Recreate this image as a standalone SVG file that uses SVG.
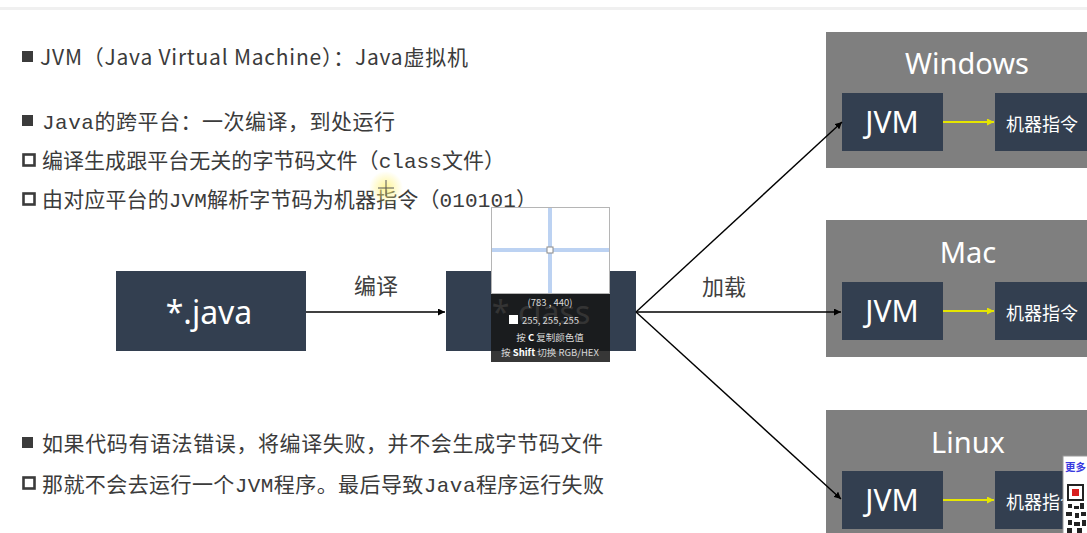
<svg xmlns="http://www.w3.org/2000/svg" width="1087" height="533" viewBox="0 0 1087 533">
<defs>
<style>
.txt{font-family:"Noto Sans CJK SC","Noto Sans",sans-serif;fill:#3b3b3b;font-size:21px}
.mono{font-family:"Liberation Mono","DejaVu Sans Mono",monospace;font-size:21px}
.node{fill:#333f50}
.panel{fill:#7f7f7f}
.wt{fill:#ffffff;font-family:"Noto Sans","Noto Sans CJK SC",sans-serif}
.cjkw{fill:#ffffff;font-family:"Noto Sans CJK SC",sans-serif;font-size:18px}
.lbl{font-family:"Noto Sans CJK SC",sans-serif;fill:#404040;font-size:22px}
.conn{stroke:#000;stroke-width:1.4;fill:none;marker-end:url(#ah)}
.yconn{stroke:#e6e600;stroke-width:2;fill:none;marker-end:url(#ya)}
.bf{fill:#3b3b3b}
.bh{fill:none;stroke:#3b3b3b;stroke-width:2.6}
.pk{font-family:"Noto Sans CJK SC",sans-serif;fill:#d8d8d8;font-size:9.5px}
</style>
<marker id="ah" viewBox="0 0 10 10" refX="10" refY="5" markerWidth="7" markerHeight="7" orient="auto" markerUnits="userSpaceOnUse"><path d="M0,0 L10,5 L0,10 z" fill="#000"/></marker>
<marker id="ya" viewBox="0 0 10 10" refX="10" refY="5" markerWidth="7" markerHeight="7" orient="auto" markerUnits="userSpaceOnUse"><path d="M0,0 L10,5 L0,10 z" fill="#e6e600"/></marker>
<radialGradient id="hl"><stop offset="0" stop-color="#fff27a" stop-opacity="0.8"/><stop offset="1" stop-color="#fff27a" stop-opacity="0"/></radialGradient>
</defs>
<rect x="0" y="0" width="1087" height="533" fill="#ffffff"/>
<rect x="0" y="7" width="1087" height="3" fill="#f0f0f0"/>

<g id="text-block">
<rect class="bf" x="22" y="51" width="11" height="11"/>
<text class="txt" x="40" y="65" textLength="428" lengthAdjust="spacing">JVM（Java Virtual Machine）：Java虚拟机</text>
<rect class="bf" x="22" y="115" width="11" height="11"/>
<text class="txt" x="42" y="129" textLength="353" lengthAdjust="spacing"><tspan class="mono">Java</tspan>的跨平台：一次编译，到处运行</text>
<rect class="bh" x="23.5" y="154.5" width="11" height="11"/>
<text class="txt" x="42" y="168" textLength="463" lengthAdjust="spacing">编译生成跟平台无关的字节码文件（<tspan class="mono">class</tspan>文件）</text>
<rect class="bh" x="23.5" y="193.5" width="11" height="11"/>
<text class="txt" x="42" y="207" textLength="495" lengthAdjust="spacing">由对应平台的<tspan class="mono">JVM</tspan>解析字节码为机器指令（<tspan class="mono">010101</tspan>）</text>
<rect class="bf" x="22" y="437" width="11" height="11"/>
<text class="txt" x="42" y="451" textLength="561" lengthAdjust="spacing">如果代码有语法错误，将编译失败，并不会生成字节码文件</text>
<rect class="bh" x="23.5" y="477.5" width="11" height="11"/>
<text class="txt" x="42" y="492" textLength="562" lengthAdjust="spacing">那就不会去运行一个<tspan class="mono">JVM</tspan>程序。最后导致<tspan class="mono">Java</tspan>程序运行失败</text>
</g>

<g id="node-java">
<rect class="node" x="116" y="271" width="190" height="80"/>
<text class="wt" x="209" y="324" font-size="32" text-anchor="middle">*.java</text>
</g>

<g id="node-class">
<rect class="node" x="446" y="271" width="190" height="80"/>
<text class="wt" x="541" y="324" font-size="32" text-anchor="middle" fill-opacity="0.9">*.class</text>
</g>

<g id="panel-windows">
<rect class="panel" x="826" y="32" width="280" height="136"/>
<text class="wt" x="967" y="74" font-size="29" text-anchor="middle">Windows</text>
<rect class="node" x="842" y="93" width="101" height="58"/>
<text class="wt" x="892" y="133" font-size="30" text-anchor="middle">JVM</text>
<rect class="node" x="995" y="93" width="110" height="58"/>
<text class="cjkw" x="1006" y="131">机器指令</text>
</g>

<g id="panel-mac">
<rect class="panel" x="826" y="220" width="280" height="137"/>
<text class="wt" x="968" y="263" font-size="29" text-anchor="middle">Mac</text>
<rect class="node" x="842" y="282" width="101" height="58"/>
<text class="wt" x="892" y="322" font-size="30" text-anchor="middle">JVM</text>
<rect class="node" x="995" y="282" width="110" height="58"/>
<text class="cjkw" x="1006" y="320">机器指令</text>
</g>

<g id="panel-linux">
<rect class="panel" x="826" y="410" width="280" height="140"/>
<text class="wt" x="968" y="453" font-size="29" text-anchor="middle">Linux</text>
<rect class="node" x="842" y="471" width="101" height="58"/>
<text class="wt" x="892" y="511" font-size="30" text-anchor="middle">JVM</text>
<rect class="node" x="995" y="471" width="110" height="58"/>
<text class="cjkw" x="1006" y="509">机器指令</text>
</g>

<g id="connectors">
<path class="conn" d="M306,312 L445,312"/>
<path class="conn" d="M636,312 L842,122"/>
<path class="conn" d="M636,312 L841,312"/>
<path class="conn" d="M636,312 L841,499"/>
<path class="yconn" d="M943,122 L994,122"/>
<path class="yconn" d="M943,311 L994,311"/>
<path class="yconn" d="M943,500 L994,500"/>
<text class="lbl" x="376" y="294" text-anchor="middle">编译</text>
<text class="lbl" x="724" y="295" text-anchor="middle">加载</text>
</g>

<g id="color-picker">
<rect x="491" y="207" width="119" height="155" fill="#161616" fill-opacity="0.86"/>
<rect x="491.5" y="207.5" width="118" height="86" fill="#ffffff" stroke="#b5b5b5"/>
<line x1="550" y1="208" x2="550" y2="293" stroke="#bcd2f2" stroke-width="4"/>
<line x1="492" y1="250" x2="609" y2="250" stroke="#bcd2f2" stroke-width="4"/>
<rect x="547" y="247" width="6" height="6" fill="#ffffff" stroke="#8a8a8a"/>
<text class="pk" x="550" y="306" text-anchor="middle">(783 , 440)</text>
<rect x="509" y="315" width="9" height="9" fill="#ffffff"/>
<text class="pk" x="522" y="324">255, 255, 255</text>
<text class="pk" x="550" y="341" text-anchor="middle">按 <tspan font-weight="bold" fill="#fff">C</tspan> 复制颜色值</text>
<text class="pk" x="550" y="356" text-anchor="middle">按 <tspan font-weight="bold" fill="#fff">Shift</tspan> 切换 RGB/HEX</text>
</g>

<g id="cursor">
<circle cx="386" cy="188" r="17" fill="url(#hl)"/>
<path d="M386,180 V196 M378,188 H394" stroke="#555" stroke-width="1"/>
</g>

<g id="qr">
<rect x="1063" y="456" width="26" height="80" fill="#ffffff" stroke="#999" stroke-width="1"/>
<text x="1065" y="471" font-family="Noto Sans CJK SC,sans-serif" font-size="10.5" font-weight="bold" fill="#3a3ae0">更多</text>
<rect x="1068" y="485" width="15" height="15" fill="#ffffff" stroke="#222" stroke-width="2"/>
<rect x="1072" y="489" width="7" height="7" fill="#d81e1e"/>
<rect x="1068" y="504" width="4" height="4" fill="#222"/>
<rect x="1074" y="506" width="5" height="3" fill="#222"/>
<rect x="1080" y="503" width="4" height="6" fill="#222"/>
<rect x="1066" y="512" width="6" height="4" fill="#222"/>
<rect x="1075" y="513" width="4" height="5" fill="#222"/>
<rect x="1081" y="512" width="5" height="4" fill="#222"/>
<rect x="1068" y="520" width="4" height="5" fill="#222"/>
<rect x="1074" y="522" width="6" height="4" fill="#222"/>
<rect x="1082" y="520" width="4" height="6" fill="#222"/>
<rect x="1067" y="528" width="5" height="5" fill="#222"/>
<rect x="1077" y="528" width="5" height="5" fill="#222"/>
</g>
</svg>
